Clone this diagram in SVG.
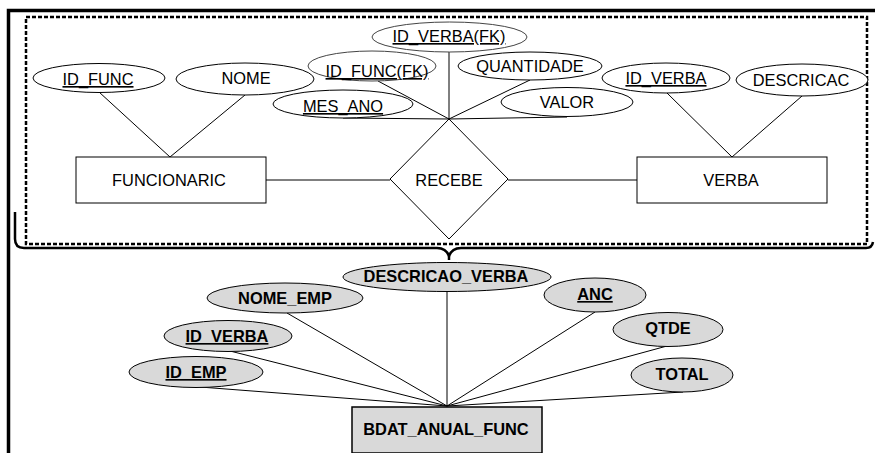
<svg xmlns="http://www.w3.org/2000/svg" width="875" height="453" viewBox="0 0 875 453">
  <style>
    text { font-family: "Liberation Sans", Arial, sans-serif; font-size: 16.4px; fill: #000; text-anchor: middle; }
    .key { text-decoration: underline; }
    .b { font-weight: bold; }
    .attr { fill: #fff; stroke: #000; stroke-width: 1; }
    .fk { fill: #fff; stroke: #444; stroke-width: 1; }
    .gattr { fill: #d9d9d9; stroke: #000; stroke-width: 1; }
    .ent { fill: #fff; stroke: #000; stroke-width: 1; }
    .gent { fill: #d9d9d9; stroke: #000; stroke-width: 1.5; }
    .link { stroke: #000; stroke-width: 1; fill: none; }
    .frame { stroke: #000; stroke-width: 3.5; fill: none; }
    .group { stroke: #000; stroke-width: 2.5; fill: none; stroke-dasharray: 4 2; }
    .brace { stroke: #000; stroke-width: 2.5; fill: none; }
  </style>

  <rect width="875" height="453" fill="#fff"/>

  <!-- page frame -->
  <path class="frame" d="M8.5,453 V10.5 H875"/>

  <!-- conceptual model boundary and brace -->
  <rect class="group" x="26" y="17" width="841" height="227"/>
  <path class="brace" d="M15,212 V239 Q15,248 24,248 H437 Q446,248 449,256 Q452,248 461,248 H866 Q872,248 873,242"/>
  <path class="brace" d="M449,255 V260"/>

  <!-- connectors -->
  <g id="connectors">
    <line class="link" x1="99" y1="92" x2="170" y2="157"/>
    <line class="link" x1="245" y1="95" x2="170" y2="157"/>
    <line class="link" x1="266" y1="180" x2="390" y2="180"/>
    <line class="link" x1="508" y1="180" x2="637" y2="180"/>
    <line class="link" x1="667" y1="93" x2="732" y2="157"/>
    <line class="link" x1="802" y1="96" x2="732" y2="157"/>
    <line class="link" x1="378" y1="81" x2="449" y2="119"/>
    <line class="link" x1="343" y1="118" x2="449" y2="119"/>
    <line class="link" x1="449" y1="52" x2="449" y2="119"/>
    <line class="link" x1="530" y1="80" x2="449" y2="119"/>
    <line class="link" x1="567" y1="117" x2="449" y2="119"/>

    <line class="link" x1="447" y1="291" x2="447" y2="406"/>
    <line class="link" x1="287" y1="313" x2="447" y2="406"/>
    <line class="link" x1="230" y1="351" x2="447" y2="406"/>
    <line class="link" x1="200" y1="387" x2="447" y2="406"/>
    <line class="link" x1="595" y1="312" x2="447" y2="406"/>
    <line class="link" x1="667" y1="346" x2="447" y2="406"/>
    <line class="link" x1="683" y1="392" x2="447" y2="406"/>
  </g>

  <!-- conceptual model -->
  <g id="funcionario">
    <rect class="ent" x="76" y="157" width="190" height="46"/>
    <text x="169" y="186">FUNCIONARIC</text>
  </g>
  <g id="verba">
    <rect class="ent" x="637" y="157" width="190" height="46"/>
    <text x="731" y="186">VERBA</text>
  </g>
  <g id="recebe">
    <polygon class="ent" points="449,119 508,179 449,239 390,179"/>
    <text x="449" y="186">RECEBE</text>
  </g>
  <g id="id-func">
    <ellipse class="attr" cx="99" cy="78" rx="66" ry="14.5"/>
    <text class="key" x="98" y="85">ID_FUNC</text>
  </g>
  <g id="nome">
    <ellipse class="attr" cx="245" cy="79" rx="69" ry="16"/>
    <text x="246" y="84">NOME</text>
  </g>
  <g id="id-func-fk">
    <ellipse class="fk" cx="372" cy="66" rx="64" ry="15"/>
    <text class="key" x="377" y="77">ID_FUNC(FK)</text>
  </g>
  <g id="id-verba-fk">
    <ellipse class="fk" cx="449.5" cy="37" rx="77.5" ry="15"/>
    <text class="key" x="449" y="42">ID_VERBA(FK)</text>
  </g>
  <g id="mes-ano">
    <ellipse class="attr" cx="343" cy="104" rx="70" ry="14"/>
    <text class="key" x="343" y="112">MES_ANO</text>
  </g>
  <g id="quantidade">
    <ellipse class="attr" cx="530" cy="66" rx="72" ry="14"/>
    <text x="530" y="72">QUANTIDADE</text>
  </g>
  <g id="valor">
    <ellipse class="attr" cx="567" cy="102" rx="66" ry="14.5"/>
    <text x="567" y="108">VALOR</text>
  </g>
  <g id="id-verba">
    <ellipse class="attr" cx="666" cy="78" rx="64" ry="15"/>
    <text class="key" x="666" y="84">ID_VERBA</text>
  </g>
  <g id="descricao">
    <ellipse class="attr" cx="802" cy="80" rx="66" ry="16"/>
    <text x="801" y="86">DESCRICAC</text>
  </g>

  <!-- annual table -->
  <g id="bdat-anual-func">
    <rect class="gent" x="352" y="407" width="190" height="46"/>
    <text class="b" x="446" y="435">BDAT_ANUAL_FUNC</text>
  </g>
  <g id="descricao-verba">
    <ellipse class="gattr" cx="447" cy="277" rx="104" ry="14.5"/>
    <text class="b" x="446" y="282">DESCRICAO_VERBA</text>
  </g>
  <g id="nome-emp">
    <ellipse class="gattr" cx="285" cy="298" rx="78" ry="15"/>
    <text class="b" x="285" y="304">NOME_EMP</text>
  </g>
  <g id="id-verba-b">
    <ellipse class="gattr" cx="228" cy="336" rx="64" ry="15.5"/>
    <text class="b key" x="227" y="342">ID_VERBA</text>
  </g>
  <g id="id-emp">
    <ellipse class="gattr" cx="196" cy="372" rx="67" ry="15.5"/>
    <text class="b key" x="196" y="378">ID_EMP</text>
  </g>
  <g id="ano">
    <ellipse class="gattr" cx="595" cy="295" rx="51" ry="17"/>
    <text class="b key" x="595" y="300">ANC</text>
  </g>
  <g id="qtde">
    <ellipse class="gattr" cx="668" cy="329.5" rx="55" ry="17"/>
    <text class="b" x="668" y="334">QTDE</text>
  </g>
  <g id="total">
    <ellipse class="gattr" cx="682" cy="375" rx="51" ry="17"/>
    <text class="b" x="682" y="380">TOTAL</text>
  </g>
</svg>
